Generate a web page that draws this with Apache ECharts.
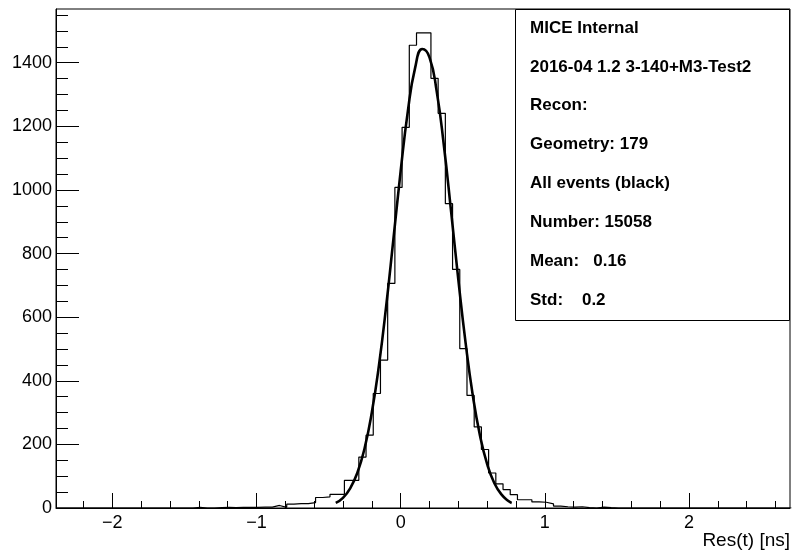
<!DOCTYPE html>
<html>
<head>
<meta charset="utf-8">
<script src="https://cdn.jsdelivr.net/npm/echarts@6/dist/echarts.min.js"></script>
<style>
html,body{margin:0;padding:0;background:#fff;}
#chart{width:794px;height:555px;}
</style>
</head>
<body>
<div id="chart"></div>
<script>
// ---- data ----
const xMin = -2.39, xMax = 2.70;
const binStart = -2.39, binWidth = 0.05;
const counts = [
  0,0,0,0,0,0,0,0,0,0, 0,0,0,0,0,0,0,0,0,2,
  0,0,1,2,1,2,2,2,3,3, 8,2,12,14,14,17,33,35,43,43,
  87,87,160,229,360,465,706,1008,1197,1455, 1494,1494,1351,1241,957,750,501,354,255,184,
  110,76,58,42,26,26,19,18,13,6, 4,3,4,1,0,3,1,0,0,0,
  0,0,0,0,0,0,0,0,0,0, 0,0,0,0,0,0,0,0,0,0, 0,0
];
const fitX = [-0.45,-0.40,-0.35,-0.30,-0.25,-0.20,-0.15,-0.10,-0.05,0.00,0.05,0.10,0.15,0.20,0.25,0.30,0.35,0.40,0.45,0.50,0.55,0.60,0.65,0.70,0.75,0.77];
const fitY = [16,32,62,111,188,300,450,636,846,1059,1248,1383,1443,1417,1310,1139,932,718,521,355,228,138,78,42,21,16];
const yMax = 1569;
const xMajorTicks = [-2,-1,0,1,2];
const xTickLabels = ['\u22122','\u22121','0','1','2'];
const xMinorTicks = [-2.2,-2.0,-1.8,-1.6,-1.4,-1.2,-1.0,-0.8,-0.6,-0.4,-0.2,0,0.2,0.4,0.6,0.8,1.0,1.2,1.4,1.6,1.8,2.0,2.2,2.4,2.6];
const yMajorTicks = [0,200,400,600,800,1000,1200,1400];
const yTickLabels = ['0','200','400','600','800','1000','1200','1400'];
const yMinorTicks = [0,50,100,150,200,250,300,350,400,450,500,550,600,650,700,750,800,850,900,950,1000,1050,1100,1150,1200,1250,1300,1350,1400,1450,1500,1550];
const xTitle = 'Res(t) [ns]';
const statsLines = [
  'MICE Internal',
  '2016-04 1.2 3-140+M3-Test2',
  'Recon:',
  'Geometry: 179',
  'All events (black)',
  'Number: 15058',
  'Mean:   0.16',
  'Std:    0.2'
];

// ---- build series data ----
const histData = [];
for (let k = 0; k < counts.length; k++) {
  histData.push([+(binStart + k * binWidth).toFixed(4), counts[k]]);
}
histData.push([+(binStart + counts.length * binWidth).toFixed(4), counts[counts.length - 1]]);
const fitData = fitX.map((x, i) => [x, fitY[i]]);

const FONT = '"Liberation Sans", Arial, Helvetica, sans-serif';
const black = '#000';
const pick = (ticks, labels) => (v) => { const i = ticks.findIndex(t => Math.abs(t - v) < 1e-9); return i >= 0 ? labels[i] : ''; };

const graphics = [{
  type: 'rect', z: 100,
  shape: { x: 515.5, y: 9.5, width: 274, height: 311 },
  style: { fill: '#fff', stroke: black, lineWidth: 1 }
}];
statsLines.forEach((t, i) => {
  graphics.push({
    type: 'text', z: 101,
    x: 530, y: 28 + i * 38.9,
    style: { text: t, font: 'bold 17px ' + FONT, fill: black, verticalAlign: 'middle', align: 'left' }
  });
});

const chart = echarts.init(document.getElementById('chart'), null, { renderer: 'canvas' });
chart.setOption({
  animation: false,
  backgroundColor: '#fff',
  grid: { left: 56, right: 4, top: 9, bottom: 47, show: true, borderColor: black, borderWidth: 1, backgroundColor: 'transparent' },
  xAxis: [{
    type: 'value', min: xMin, max: xMax, position: 'bottom',
    axisLine: { show: true, onZero: false, lineStyle: { color: black, width: 1 } },
    axisTick: { show: true, inside: true, length: 15, customValues: xMajorTicks, lineStyle: { color: black, width: 1 } },
    axisLabel: { customValues: xMajorTicks, color: black, fontSize: 18, fontFamily: FONT, margin: 6, formatter: pick(xMajorTicks, xTickLabels) },
    splitLine: { show: false },
    name: xTitle, nameLocation: 'end', nameGap: 0,
    nameTextStyle: { color: black, fontSize: 19, fontFamily: FONT, align: 'right', verticalAlign: 'top', padding: [23, 0, 0, 0] }
  }, {
    type: 'value', min: xMin, max: xMax, position: 'bottom',
    axisLine: { show: false, onZero: false },
    axisTick: { show: true, inside: true, length: 7, customValues: xMinorTicks, lineStyle: { color: black, width: 1 } },
    axisLabel: { show: false }, splitLine: { show: false }
  }],
  yAxis: [{
    type: 'value', min: 0, max: yMax, position: 'left',
    axisLine: { show: true, onZero: false, lineStyle: { color: black, width: 1 } },
    axisTick: { show: true, inside: true, length: 23, customValues: yMajorTicks, lineStyle: { color: black, width: 1 } },
    axisLabel: { customValues: yMajorTicks, color: black, fontSize: 18, fontFamily: FONT, margin: 4, formatter: pick(yMajorTicks, yTickLabels) },
    splitLine: { show: false }
  }, {
    type: 'value', min: 0, max: yMax, position: 'left',
    axisLine: { show: false, onZero: false },
    axisTick: { show: true, inside: true, length: 12, customValues: yMinorTicks, lineStyle: { color: black, width: 1 } },
    axisLabel: { show: false }, splitLine: { show: false }
  }],
  series: [{
    name: 'All events', type: 'line', step: 'end', data: histData,
    xAxisIndex: 0, yAxisIndex: 0, symbol: 'none', z: 2,
    lineStyle: { color: '#000', width: 1.2 }
  }, {
    name: 'Fit', type: 'line', smooth: true, data: fitData,
    xAxisIndex: 0, yAxisIndex: 0, symbol: 'none', z: 3,
    lineStyle: { color: black, width: 2.6 }
  }],
  graphic: graphics
});
</script>
</body>
</html>
